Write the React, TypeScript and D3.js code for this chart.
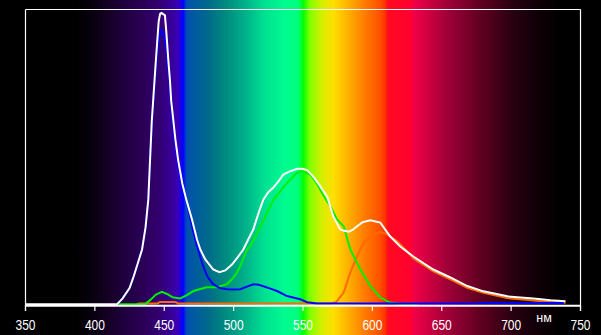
import React from "react";
import * as d3 from "d3";

const xTicks = [350, 400, 450, 500, 550, 600, 650, 700, 750];
const unitLabel = "нм";

const whiteSpectrum: [number, number][] = [
  [350, 0], [416, 0], [418, 0.01], [420, 0.02], [425, 0.055], [428, 0.095], [431, 0.14],
  [434, 0.186], [436.5, 0.26], [438.5, 0.355], [441, 0.62], [442, 0.69], [444, 0.83],
  [446, 0.96], [447, 0.985], [448, 0.988], [449, 0.985], [450.5, 0.98], [451.4, 0.93],
  [452.9, 0.83], [454.1, 0.76], [455, 0.69], [456.5, 0.626], [458, 0.56], [460, 0.49],
  [463, 0.41], [465.9, 0.355], [470, 0.288], [473.6, 0.22], [476, 0.186], [479.6, 0.152],
  [485.3, 0.118], [489.7, 0.109], [494, 0.115], [498.8, 0.135], [503, 0.16], [507, 0.186],
  [510.5, 0.22], [514.2, 0.254], [518, 0.31], [521.4, 0.355], [525, 0.38], [528.6, 0.396],
  [532, 0.415], [535.8, 0.44], [540, 0.45], [545.9, 0.46], [549.5, 0.46], [553, 0.455],
  [557.4, 0.433], [561, 0.41], [567.5, 0.365], [571.8, 0.298], [576.8, 0.254], [579, 0.25],
  [583, 0.246], [586.2, 0.254], [589, 0.265], [592.7, 0.278], [598.5, 0.285], [605.7, 0.277],
  [612.9, 0.23], [620.1, 0.196], [629.5, 0.162], [643.9, 0.118], [656.2, 0.091],
  [668.4, 0.062], [680, 0.044], [697.3, 0.027], [716, 0.02], [728.4, 0.0135], [739.2, 0.01],
];

const blueSpectrum: [number, number][] = [
  [416, 0], [418, 0.01], [420, 0.02], [425, 0.055], [428, 0.095], [431, 0.14], [434, 0.186],
  [436.5, 0.26], [438.5, 0.355], [441, 0.6], [442, 0.67], [444, 0.8], [446, 0.9],
  [447.5, 0.93], [449, 0.92], [450.5, 0.9], [452, 0.84], [454, 0.74], [455, 0.68],
  [456.5, 0.6], [458, 0.54], [460, 0.47], [463, 0.4], [465.9, 0.355], [470, 0.265],
  [473.6, 0.197], [478, 0.13], [481, 0.095], [485, 0.069], [490, 0.055], [495.2, 0.051],
  [500, 0.05], [504.8, 0.051], [509.6, 0.06], [514.2, 0.068], [518, 0.066], [521.4, 0.061],
  [526, 0.054], [531.3, 0.045], [538.5, 0.028], [548, 0.017], [553, 0.007], [560, 0.003],
  [675, 0.003], [680, 0.004], [738, 0.004],
];

const greenSpectrum: [number, number][] = [
  [417, 0], [436, 0], [440, 0.015], [444, 0.033], [448.3, 0.042], [452, 0.035], [456, 0.024],
  [461.5, 0.02], [466, 0.03], [471, 0.045], [476, 0.052], [480.8, 0.058], [488, 0.058],
  [495, 0.068], [498.8, 0.085], [502, 0.105], [504.8, 0.13], [509.6, 0.186], [512, 0.197],
  [519.2, 0.262], [526.4, 0.333], [528.8, 0.355], [533, 0.38], [538.5, 0.412],
  [545.7, 0.446], [549.3, 0.451], [555.3, 0.44], [560, 0.41], [564.9, 0.367], [570, 0.33],
  [574.5, 0.288], [579.3, 0.265], [584.1, 0.186], [591.3, 0.118], [598.5, 0.062],
  [605.7, 0.023], [612.9, 0.006], [620, 0.002], [633, 0.002],
];

const redSpectrum: [number, number][] = [
  [430, 0], [432, 0.003], [445, 0.003], [447, 0.008], [458, 0.008], [460, 0.003],
  [570, 0.003], [574, 0.008], [579.3, 0.04], [584, 0.107], [589, 0.163], [593.7, 0.209],
  [599.8, 0.237], [605.8, 0.245], [610.6, 0.237], [617.8, 0.215], [625, 0.18],
  [629.5, 0.155], [643.9, 0.112], [656.2, 0.085], [668.4, 0.056], [680, 0.039],
  [697.3, 0.021], [716, 0.013], [728.4, 0.008], [739.2, 0.005],
];

const spectrumStops: [number, string][] = [
  [350, "#000000"], [386, "#000000"], [398, "#08000f"], [410, "#150025"], [422, "#200040"],
  [434, "#2a0055"], [446, "#330070"], [456, "#38009c"], [460, "#3800b8"], [462, "#1800e8"],
  [463.7, "#0000ff"], [465.5, "#0040c8"], [467, "#0052aa"], [481.7, "#006a8a"],
  [494, "#008a80"], [508, "#00b08a"], [522, "#00e090"], [536, "#00fa90"], [546, "#00ff80"],
  [549, "#00ff30"], [550, "#00ff00"], [555, "#80ff00"], [563, "#d0f000"], [572, "#ffe000"],
  [579, "#ffc000"], [593.5, "#ff8000"], [605.5, "#ff5000"], [609.5, "#ff3000"],
  [611, "#ff0a20"], [628, "#ff0030"], [630, "#f00048"], [640, "#d00040"], [654, "#a00038"],
  [678, "#600020"], [701.5, "#280010"], [716, "#140008"], [725.5, "#0a0004"],
  [738, "#000000"], [750, "#000000"],
];

const W = 601;
const H = 335;

export default function App() {
  const x = d3.scaleLinear().domain([350, 750]).range([25.5, 580.5]);
  const y = d3.scaleLinear().domain([0, 1]).range([304.3, 9.5]);
  const line = d3
    .line<[number, number]>()
    .x((d) => x(d[0]))
    .y((d) => y(d[1]));

  const series: { data: [number, number][]; color: string }[] = [
    { data: redSpectrum, color: "#ff6a00" },
    { data: greenSpectrum, color: "#00f000" },
    { data: blueSpectrum, color: "#0000ff" },
    { data: whiteSpectrum, color: "#ffffff" },
  ];

  const x0 = x(350);
  const x1 = x(750);

  return (
    <svg
      width={W}
      height={H}
      style={{ position: "fixed", left: 0, top: 0, display: "block" }}
    >
      <defs>
        <linearGradient
          id="spec"
          gradientUnits="userSpaceOnUse"
          x1={x0}
          x2={x1}
          y1={0}
          y2={0}
        >
          {spectrumStops.map(([nm, c], i) => (
            <stop key={i} offset={(x(nm) - x0) / (x1 - x0)} stopColor={c} />
          ))}
        </linearGradient>
      </defs>
      <rect x={0} y={0} width={W} height={H} fill="#000" />
      <rect x={x0} y={0} width={x1 - x0} height={H} fill="url(#spec)" />

      {/* plot frame */}
      <line x1={x0} x2={x1} y1={9.5} y2={9.5} stroke="#fff" strokeWidth={1.2} />
      <line x1={x0} x2={x0} y1={9.5} y2={311} stroke="#fff" strokeWidth={1.2} />
      <line x1={x1} x2={x1} y1={9.5} y2={311} stroke="#fff" strokeWidth={1.2} />

      {series.map((s, i) => (
        <path
          key={i}
          d={line(s.data) || ""}
          fill="none"
          stroke={s.color}
          strokeWidth={2}
          strokeLinejoin="miter"
        />
      ))}

      {/* x axis */}
      <line x1={x0} x2={x1} y1={305.7} y2={305.7} stroke="#fff" strokeWidth={2} />
      {xTicks.map((t) => (
        <g key={t}>
          <line x1={x(t)} x2={x(t)} y1={305} y2={311} stroke="#fff" strokeWidth={1.2} />
          <text
            x={x(t)}
            y={330}
            fill="#fff"
            fontFamily="Liberation Sans, Arial, sans-serif"
            fontSize={14}
            textAnchor="middle"
            textLength={20}
            lengthAdjust="spacingAndGlyphs"
          >
            {t}
          </text>
        </g>
      ))}
      <text
        x={544}
        y={322}
        fill="#fff"
        fontFamily="Liberation Sans, Arial, sans-serif"
        fontSize={12.5}
        textAnchor="middle"
      >
        {unitLabel}
      </text>
    </svg>
  );
}
